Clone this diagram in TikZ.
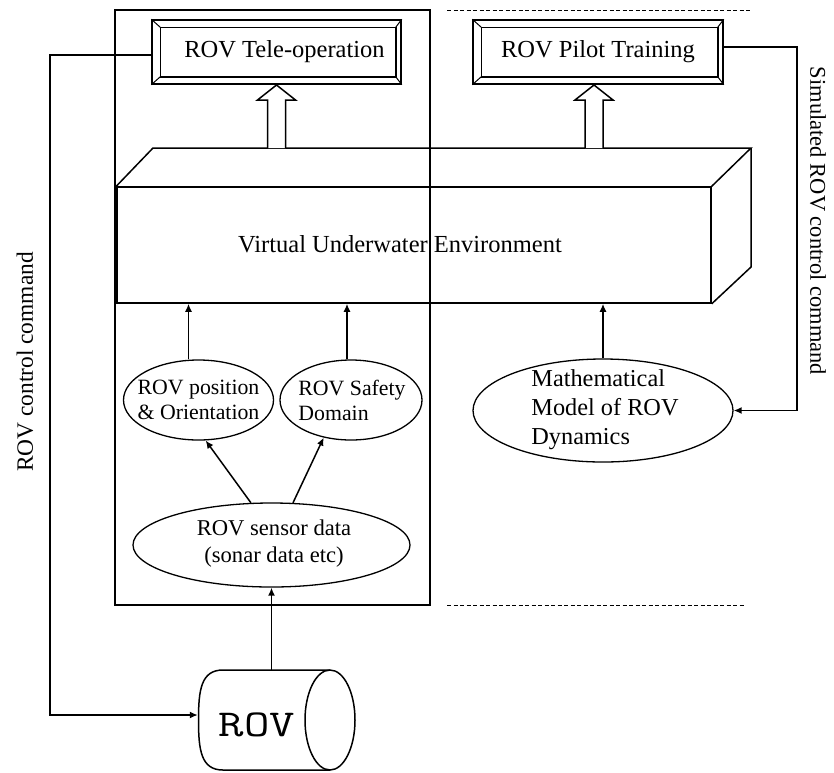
\documentclass[tikz,border=0pt]{standalone}
\usepackage{fontspec}
\setmainfont{Liberation Serif}
\usetikzlibrary{arrows.meta,shapes.geometric}
\begin{document}
\begin{tikzpicture}[x=1pt,y=-1pt,
  ln/.style={line width=1.5pt},
  arr/.style={ln,-{Latex[length=8pt,width=7pt]}},
  bevel/.style={draw,ln,minimum height=64pt,inner sep=0pt,font=\fontsize{24.5}{29}\selectfont},
  oval/.style={draw,ellipse,line width=1.3pt,inner sep=0pt},
  txt/.style={inner sep=0pt},
  dashline/.style={line width=1pt,dash pattern=on 4pt off 2.5pt},
  hollowup/.pic={\draw[ln,fill=white] (-9,0) -- (-9,-48) -- (-19,-48) -- (0,-63) -- (19,-48) -- (9,-48) -- (9,0);}
]
\useasboundingbox (0,0) rectangle (834,772);

% tele-operation side frame
\node[draw,ln,minimum width=315pt,minimum height=595pt,inner sep=0pt] (frame) at (272.5,307.5) {};

% separators on the simulation side
\coordinate (d1) at (447,10);
\coordinate (d2) at (750,10);
\coordinate (d3) at (447,605);
\coordinate (d4) at (745,605);
\draw[dashline] (d1) -- (d2);
\draw[dashline] (d3) -- (d4);

% bevelled application boxes
\node[bevel,minimum width=249pt] (tele) at (276.5,52) {\hspace*{16pt}ROV Tele-operation};
\node[bevel,minimum width=250pt] (pilot) at (598,52) {ROV Pilot Training};
\foreach \b in {tele,pilot}{
  \draw[ln] ([shift={(9,8)}]\b.north west) rectangle ([shift={(-6,-8)}]\b.south east);
  \draw[line width=1pt] (\b.north west) -- ++(9,8) (\b.north east) -- ++(-6,8)
        (\b.south west) -- ++(9,-8) (\b.south east) -- ++(-6,-8);
}

% 3D block: virtual environment
\node[draw,ln,minimum width=594pt,minimum height=116pt,inner sep=0pt] (vue) at (414,245) {};
\coordinate (vtl) at (153,148);
\coordinate (vtr) at (751,148);
\coordinate (vbr) at (751,267);
\draw[ln] (vue.north west) -- (vtl) -- (vtr) -- (vue.north east);
\draw[ln] (vtr) -- (vbr) -- (vue.south east);
\node[txt,font=\fontsize{24.5}{29}\selectfont] (vuetext) at (400,244) {Virtual Underwater Environment};

% hollow arrows up to the applications
\pic at (tele.south |- vtl) {hollowup};
\pic at ([xshift=-4pt]pilot.south |- vtl) {hollowup};

% data ellipses
\node[oval,minimum width=150pt,minimum height=80pt] (pos) at (198.5,400) {};
\node[txt,align=center,font=\fontsize{21.8}{25}\selectfont] (postext) at (198.5,400) {ROV position\\\& Orientation};
\node[oval,minimum width=142pt,minimum height=80pt] (safe) at (351,400) {};
\node[txt,align=left,font=\fontsize{21.8}{25}\selectfont] (safetext) at (352,400) {ROV Safety\\Domain};
\node[oval,minimum width=277pt,minimum height=84pt] (sensor) at (271.5,545) {};
\node[txt,align=center,font=\fontsize{22.6}{27}\selectfont] (sensortext) at (274,544) {ROV sensor data\\(sonar data etc)};
\node[oval,minimum width=260pt,minimum height=103pt] (math) at (603,410.5) {};
\node[txt,align=left,font=\fontsize{24.3}{29}\selectfont] (mathtext) at (605,410) {Mathematical\\Model of ROV\\Dynamics};

% the vehicle: a drum lying on its side, open end to the right
\node[minimum width=157pt,minimum height=100pt,inner sep=0pt] (rov) at (276.5,720) {};
\coordinate (rovend) at (330,720);
\draw[ln] (330,670) -- (223,670) .. controls (201,670) and (198.5,690) .. (198.5,720)
          .. controls (198.5,750) and (201,770) .. (223,770) -- (330,770);
\draw[ln] (rovend) ellipse [x radius=25, y radius=50];
\node[txt,font=\ttfamily\fontsize{38}{38}\selectfont] (rovtext) at (257,725) {\scalebox{1.3}[1]{ROV}};

% side labels
\node[txt,rotate=90,font=\fontsize{23.4}{28}\selectfont] (lcmdtext) at (25,362) {ROV control command};
\node[txt,rotate=-90,font=\fontsize{22.5}{27}\selectfont] (rcmdtext) at (818,221) {Simulated ROV control command};

% connectors
\coordinate (lcmd) at (50,715);
\coordinate (rcmd) at (797,47);
\draw[arr] ([yshift=-3pt]tele.west) -| (lcmd) -- ([yshift=5pt]rov.west);
\draw[arr] ([yshift=5pt]pilot.east) -- (rcmd) |- (math.east);
\draw[arr] (sensor.south |- rov.north) -- (sensor.south);
\draw[arr] (sensor.116) -- (pos.-80);
\draw[arr] (sensor.63) -- (safe.-126);
\coordinate (pa) at ([xshift=-10pt]pos.north);
\coordinate (sa) at ([xshift=-4pt]safe.north);
\draw[arr] (pa) -- (pa |- vue.south);
\draw[arr] (sa) -- (sa |- vue.south);
\draw[arr] (math.north) -- (math.north |- vue.south);
\end{tikzpicture}
\end{document}
